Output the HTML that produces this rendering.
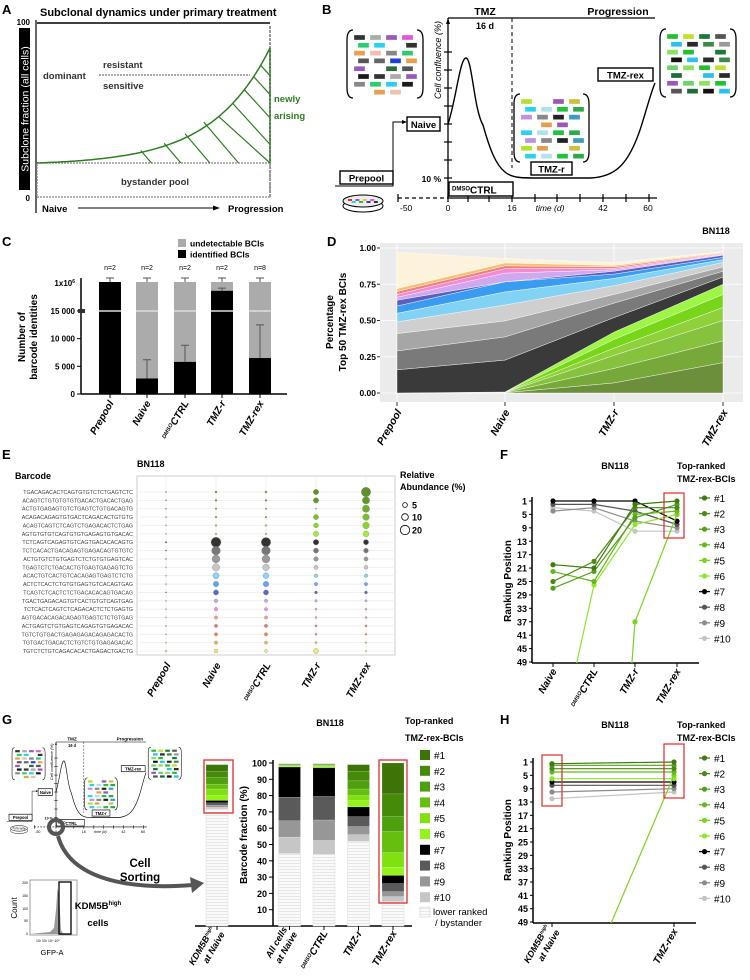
<!DOCTYPE html>
<html><head><meta charset="utf-8">
<style>
html,body{margin:0;padding:0;background:#fff;width:750px;height:980px;overflow:hidden;}
svg{display:block;font-family:"Liberation Sans",Arial,sans-serif;}
.b{font-weight:bold;}
</style></head>
<body>
<svg id="fig" width="750" height="980" viewBox="0 0 750 980" xmlns="http://www.w3.org/2000/svg">
<defs>
<clipPath id="clipF"><rect x="533" y="490" width="160" height="173"/></clipPath>
<clipPath id="clipH"><rect x="534" y="745" width="160" height="178"/></clipPath>
<pattern id="stripes" width="6" height="3" patternUnits="userSpaceOnUse"><rect width="6" height="3" fill="#fafafa"/><line x1="0" y1="2.5" x2="6" y2="2.5" stroke="#e2e2e2" stroke-width="0.8"/></pattern>
</defs>

<!-- PANEL A -->
<g>
<text x="2" y="14" class="b" font-size="13">A</text>
<text x="40" y="16" class="b" font-size="11">Subclonal dynamics under primary treatment</text>
<text x="30" y="25" class="b" font-size="8" text-anchor="end">100</text>
<text x="30" y="201" class="b" font-size="8" text-anchor="end">0</text>
<line x1="37" y1="23" x2="270" y2="23" stroke="#000" stroke-width="1.5"/>
<line x1="36" y1="20" x2="36" y2="213" stroke="#000" stroke-width="1.2"/>
<rect x="19" y="28" width="11" height="162" fill="#000"/>
<text transform="translate(28.5,109) rotate(-90)" text-anchor="middle" fill="#fff" font-size="10.5">Subclone fraction (all cells)</text>
<rect x="37" y="163" width="233" height="34" fill="none" stroke="#999" stroke-width="1.5" stroke-dasharray="2,1"/>
<text x="155" y="185" text-anchor="middle" class="b" font-size="9.5" fill="#333">bystander pool</text>
<line x1="270" y1="26" x2="270" y2="197" stroke="#999" stroke-width="2" stroke-dasharray="3,1"/>
<g id="hatchA"></g>
<line x1="99" y1="75" x2="250" y2="75" stroke="#aaa" stroke-width="2" stroke-dasharray="2,1"/>
<text x="43" y="79" class="b" font-size="9.5" fill="#333">dominant</text>
<text x="103" y="68" class="b" font-size="9.5" fill="#333">resistant</text>
<text x="103" y="89" class="b" font-size="9.5" fill="#333">sensitive</text>
<text x="274" y="102" class="b" font-size="9.5" fill="#2e7d22">newly</text>
<text x="274" y="119" class="b" font-size="9.5" fill="#2e7d22">arising</text>
<text x="42" y="212" class="b" font-size="9.5">Naive</text>
<line x1="78" y1="208" x2="216" y2="208" stroke="#000" stroke-width="1"/>
<path d="M220,208 L213,205.5 L213,210.5 Z" fill="#000"/>
<text x="228" y="212" class="b" font-size="9.5">Progression</text>
</g>

<!-- PANEL B -->
<text x="322" y="14" class="b" font-size="13">B</text>
<g id="panelB">
<text x="485" y="15" text-anchor="middle" class="b" font-size="10.5">TMZ</text>
<text x="618" y="15" text-anchor="middle" class="b" font-size="10.5">Progression</text>
<line x1="448" y1="18" x2="655" y2="18" stroke="#000" stroke-width="1.3"/>
<text x="485" y="29" text-anchor="middle" class="b" font-size="9">16 d</text>
<line x1="512" y1="18" x2="512" y2="168" stroke="#000" stroke-width="1" stroke-dasharray="4,3"/>
<line x1="448" y1="18" x2="448" y2="198" stroke="#000" stroke-width="1.3"/>
<path d="M448,18 L446,24 L450,24 Z" fill="#000"/>
<g id="bTicks"></g>
<text transform="translate(441,60) rotate(-90)" text-anchor="middle" font-style="italic" font-size="9">Cell confluence (%)</text>
<text x="441" y="182" text-anchor="end" class="b" font-size="8.5">10 %</text>
<line x1="448" y1="198" x2="657" y2="198" stroke="#000" stroke-width="1.3"/>
<line x1="398" y1="198" x2="448" y2="198" stroke="#000" stroke-width="1.2" stroke-dasharray="4,3"/>
<line x1="398" y1="194" x2="398" y2="202" stroke="#000" stroke-width="1.2"/>
<g id="tTicks"></g>
<text x="400" y="211" font-size="8.5">-50</text>
<text x="448" y="211" text-anchor="middle" font-size="8.5">0</text>
<text x="512" y="211" text-anchor="middle" font-size="8.5">16</text>
<text x="550" y="211" text-anchor="middle" font-style="italic" font-size="8.5">time (d)</text>
<text x="603" y="211" text-anchor="middle" font-size="8.5">42</text>
<text x="648" y="211" text-anchor="middle" font-size="8.5">60</text>
<path d="M448,124 C456,100 460,58 466,58 C472,58 474,110 483,125 C490,150 496,165 505,172 C512,178 520,178 540,178 L590,178 C615,177 628,165 640,130 C646,112 650,95 655,83" fill="none" stroke="#000" stroke-width="1.4"/>
<path d="M335,186 L393,186 L393,122 L405,122" fill="none" stroke="#000" stroke-width="1"/>
<path d="M407,122 L402,120 L402,124 Z" fill="#000"/>
<rect x="407" y="117" width="33" height="14" fill="#fff" stroke="#000" stroke-width="1.4"/>
<text x="423.5" y="128" text-anchor="middle" class="b" font-size="9.5">Naive</text>
<rect x="340" y="171" width="53" height="13" fill="#fff" stroke="#000" stroke-width="1.4"/>
<text x="366.5" y="181.5" text-anchor="middle" class="b" font-size="9.5">Prepool</text>
<rect x="449" y="182" width="64" height="14" fill="#fff" stroke="#000" stroke-width="1.4"/>
<text x="452" y="193.5" class="b" font-size="10"><tspan font-size="6" dy="-3">DMSO</tspan><tspan dy="3">CTRL</tspan></text>
<rect x="531" y="162" width="41" height="13" fill="#fff" stroke="#000" stroke-width="1.4"/>
<text x="551.5" y="172.5" text-anchor="middle" class="b" font-size="9.5">TMZ-r</text>
<rect x="598" y="68" width="55" height="13" fill="#fff" stroke="#000" stroke-width="1.4"/>
<text x="625.5" y="78.5" text-anchor="middle" class="b" font-size="9.5">TMZ-rex</text>
<g id="clones"></g>
<ellipse cx="363" cy="206" rx="20" ry="6" fill="#fff" stroke="#000"/>
<ellipse cx="363" cy="201" rx="20" ry="6" fill="#eee" stroke="#000"/>
</g>

<!-- PANEL C -->
<g id="panelC">
<text x="2" y="246" class="b" font-size="13">C</text>
<rect x="178" y="239" width="8" height="8" fill="#aaa"/>
<text x="190" y="246.5" font-size="8.5" class="b">undetectable BCIs</text>
<rect x="178" y="250" width="8" height="8" fill="#000"/>
<text x="190" y="257.5" font-size="8.5" class="b">identified BCIs</text>
<text transform="translate(25,337) rotate(-90)" text-anchor="middle" class="b" font-size="10">Number of</text>
<text transform="translate(37,337) rotate(-90)" text-anchor="middle" class="b" font-size="10">barcode identities</text>
</g>

<!-- PANEL D -->
<g id="panelD">
<text x="327" y="246" class="b" font-size="13">D</text>
<text x="716" y="234" text-anchor="middle" class="b" font-size="9">BN118</text>
<rect x="380" y="243" width="363" height="159" fill="#ebebeb"/>
<text transform="translate(333,322) rotate(-90)" text-anchor="middle" class="b" font-size="10">Percentage</text>
<text transform="translate(346,322) rotate(-90)" text-anchor="middle" class="b" font-size="10">Top 50 TMZ-rex BCIs</text>
</g>

<!-- PANEL E -->
<g id="panelE">
<text x="2" y="459" class="b" font-size="13">E</text>
<text x="15" y="479" class="b" font-size="9">Barcode</text>
<text x="137" y="467" class="b" font-size="9">BN118</text>
<rect x="137" y="476" width="258" height="179" fill="#fff" stroke="#ccc"/>
<text x="400" y="478" class="b" font-size="9">Relative</text>
<text x="400" y="490" class="b" font-size="9">Abundance (%)</text>
</g>

<!-- PANEL F -->
<g id="panelF">
<text x="500" y="459" class="b" font-size="13">F</text>
<text x="615" y="469" text-anchor="middle" class="b" font-size="9">BN118</text>
<text x="677" y="469" class="b" font-size="9">Top-ranked</text>
<text x="677" y="482" class="b" font-size="9">TMZ-rex-BCIs</text>
<text transform="translate(511,581) rotate(-90)" text-anchor="middle" class="b" font-size="10">Ranking Position</text>
</g>

<!-- PANEL G -->
<g id="panelG">
<text x="2" y="724" class="b" font-size="13">G</text>
<g id="insetHolder"></g>
<circle cx="56" cy="827" r="7" fill="none" stroke="#555" stroke-width="4"/>
<path d="M58,836 C70,880 130,890 193,885" fill="none" stroke="#555" stroke-width="4"/>
<path d="M204,883 L190,877 L192,893 Z" fill="#555"/>
<text x="140" y="867" text-anchor="middle" class="b" font-size="11.5">Cell</text>
<text x="140" y="881" text-anchor="middle" class="b" font-size="11.5">Sorting</text>
<rect x="30" y="880" width="47" height="55" fill="#fff" stroke="#888" stroke-width="0.8"/>
<path d="M30,934 L40,933 L50,932 L54,928 L56,910 L57.5,888 L59,895 L61,930 L63,934 Z" fill="#999"/>
<rect x="59" y="882" width="12" height="52" fill="none" stroke="#000" stroke-width="1.3"/>
<text x="28" y="884" text-anchor="end" font-size="3.5">200</text>
<text x="28" y="897" text-anchor="end" font-size="3.5">150</text>
<text x="28" y="910" text-anchor="end" font-size="3.5">100</text>
<text x="28" y="922" text-anchor="end" font-size="3.5">50</text>
<text x="28" y="935" text-anchor="end" font-size="3.5">0</text>
<text transform="translate(17,908) rotate(-90)" text-anchor="middle" font-size="8">Count</text>
<text x="36" y="942" font-size="3.5">10²  10³  10⁴  10⁵</text>
<text x="52" y="955" text-anchor="middle" font-size="7.5">GFP-A</text>
<text x="98" y="909" text-anchor="middle" class="b" font-size="9.5">KDM5B<tspan font-size="6" dy="-4">high</tspan></text>
<text x="98" y="926" text-anchor="middle" class="b" font-size="9.5">cells</text>
<text x="330" y="726" text-anchor="middle" class="b" font-size="9">BN118</text>
<text x="405" y="724" class="b" font-size="9">Top-ranked</text>
<text x="405" y="741" class="b" font-size="9">TMZ-rex-BCIs</text>
<text transform="translate(247,835) rotate(-90)" text-anchor="middle" class="b" font-size="10">Barcode fraction (%)</text>
</g>

<!-- PANEL H -->
<g id="panelH">
<text x="500" y="724" class="b" font-size="13">H</text>
<text x="615" y="728" text-anchor="middle" class="b" font-size="9">BN118</text>
<text x="677" y="728" class="b" font-size="9">Top-ranked</text>
<text x="677" y="741" class="b" font-size="9">TMZ-rex-BCIs</text>
<text transform="translate(511,840) rotate(-90)" text-anchor="middle" class="b" font-size="10">Ranking Position</text>
</g>
</svg>

<script>
// ===== DATA =====
// Panel C
var cCategories = ["Prepool","Naive","DMSO CTRL","TMZ-r","TMZ-rex"];
var cIdentified = [1000000, 2800, 5800, 700000, 6500];
var cErrorHigh = [1000000, 6200, 8800, 790000, 12500];
var cN = ["n=2","n=2","n=2","n=2","n=8"];
var cTicks = [0, 5000, 10000, 15000];
var cTickLabels = ["0","5 000","10 000","15 000"];
// Panel D (layer thickness at Prepool, Naive, TMZ-r, TMZ-rex)
var dCategories = ["Prepool","Naive","TMZ-r","TMZ-rex"];
var dTicks = [0, 0.25, 0.5, 0.75, 1.0];
var dTickLabels = ["0.00","0.25","0.50","0.75","1.00"];
var dLayer1 = [0, 0.002, 0.07, 0.21];
var dLayer2 = [0, 0.001, 0.10, 0.15];
var dLayer3 = [0, 0.001, 0.09, 0.14];
var dLayer4 = [0, 0.001, 0.05, 0.09];
var dLayer5 = [0, 0.001, 0.06, 0.09];
var dLayer6 = [0, 0.001, 0.05, 0.07];
var dLayer7 = [0.16, 0.22, 0.10, 0.05];
var dLayer8 = [0.13, 0.16, 0.10, 0.04];
var dLayer9 = [0.12, 0.11, 0.06, 0.03];
var dLayer10 = [0.08, 0.11, 0.06, 0.03];
var dLayer11 = [0.06, 0.09, 0.05, 0.02];
var dLayer12 = [0.05, 0.07, 0.03, 0.015];
var dLayer13 = [0.04, 0.00, 0.02, 0.015];
var dLayer14 = [0.02, 0.06, 0.01, 0.005];
var dLayer15 = [0.02, 0.03, 0.01, 0.005];
var dLayer16 = [0.02, 0.02, 0.01, 0.005];
var dLayer17 = [0.02, 0.02, 0.01, 0.005];
var dLayer18 = [0.25, 0.03, 0.02, 0.005];
var dLayers = [dLayer1,dLayer2,dLayer3,dLayer4,dLayer5,dLayer6,dLayer7,dLayer8,dLayer9,dLayer10,dLayer11,dLayer12,dLayer13,dLayer14,dLayer15,dLayer16,dLayer17,dLayer18];
var dColors = ["#6b8f3a","#77a83a","#86c23e","#8fd13a","#78d61a","#9df545","#3a3a3a","#7a7a7a","#a6a6a6","#cfcfcf","#82d2f5","#3a9cf0","#5a5fc0","#cfa8f0","#f28ad4","#f08080","#f5c070","#fdf3dc"];
// Panel E
var eCategories = ["Prepool","Naive","DMSO CTRL","TMZ-r","TMZ-rex"];
var eBarcodes = ["TGACAGACACTCAGTGTGTCTCTGAGTCTC","ACAGTCTGTGTGTGTGACACTGACACTGAG","ACTGTGAGAGTGTCTGAGTCTGTGACAGTG","ACAGACAGAGTGTGACTCAGACACTGTGTG","ACAGTCAGTCTCAGTCTGAGACACTCTGAG","AGTGTGTGTCAGTGTGTGAGAGTGTGACAC","TCTCAGTCAGAGTGTCAGTGACACACAGTG","TCTCACACTGACAGAGTGAGACAGTGTGTC","ACTGTGTCTGTGAGTCTCTGTGTGAGTCAC","TGAGTCTCTGACACTGTGAGTGAGAGTCTG","ACACTGTCACTGTCACAGAGTGAGTCTCTG","ACTCTCACTCTGTGTGAGTGTCACAGTGAG","TCAGTCTCACTCTCTGACACACAGTGACAG","TGACTGAGACAGTGTCACTGTGTCAGTGAG","TCTCACTCAGTCTCAGACACTCTCTGAGTG","AGTGACACAGACAGAGTGAGTCTCTGTGAG","ACTGAGTCTGTGAGTCAGAGTGTGAGACAC","TGTCTGTGACTGAGAGAGACAGAGACACTG","TGTGACTGACACTCTGTCTGTGAGAGACAC","TGTCTCTGTCAGACACACTGAGACTGACTG"];
var eAbundPrepool = [0.3,0.3,0.3,0.3,0.3,0.3,0.5,0.4,0.4,0.3,0.3,0.3,0.3,0.3,0.3,0.3,0.3,0.3,0.3,1.0];
var eAbundNaive = [0.8,0.8,0.6,0.8,0.8,0.8,22,17,14,12,9,7,6,3,3,2.5,2.5,2.5,2.5,3.5];
var eAbundCtrl = [0.8,0.8,0.6,0.8,0.8,0.8,20,17,14,10,8,7,6,2.5,2.5,2.5,2.5,2.5,2,2];
var eAbundTmzr = [6.5,6.5,0.3,6,5.5,6.5,7,6,5,4,3,2.5,2,1.5,1,1,1,1,1,6];
var eAbundTmzrex = [20,12,12,10,10,8,6,5,4,3.5,3,2.5,2,1.2,1,1,1,0.8,0.6,0.5];
var eRowColors = ["#5e8f2a","#5f9a25","#6fae2c","#7cc02e","#8ad62c","#9ff03a","#333","#777","#999","#c6c6c6","#8fd3f2","#5fa8ef","#5a66c8","#c9a4ec","#ea98dc","#eea6a6","#e27a6a","#ee8a3a","#f2b24a","#f4e878"];
var eLegendValues = [5, 10, 20];
// Panel F
var fCategories = ["Naive","DMSO CTRL","TMZ-r","TMZ-rex"];
var fRankTicks = [1,5,9,13,17,21,25,29,33,37,41,45,49];
var fRank1 = [20, 21, 2, 1];
var fRank2 = [25, 19, 3, 3];
var fRank3 = [27, 22, 6, 2];
var fRank4 = [22, 25, 5, 4];
var fRank5 = [200, 200, 37, 5];
var fRank6 = [81, 26, 8, 5];
var fRank7 = [1, 1, 1, 7];
var fRank8 = [2, 2, 4, 8];
var fRank9 = [4, 3, 7, 9];
var fRank10 = [3, 4, 10, 10];
var fSeries = [fRank1,fRank2,fRank3,fRank4,fRank5,fRank6,fRank7,fRank8,fRank9,fRank10];
var rankColors = ["#3f7a10","#4b8a14","#56a019","#66b81c","#7ad41e","#8ce82a","#000000","#555555","#8c8c8c","#c4c4c4"];
var rankLabels = ["#1","#2","#3","#4","#5","#6","#7","#8","#9","#10"];
// Panel G (% of each segment #1..#10; remainder = lower ranked)
var gCategories = ["KDM5B high at Naive","All cells at Naive","DMSO CTRL","TMZ-r","TMZ-rex"];
var gTicks = [10,20,30,40,50,60,70,80,90,100];
var gSeg1 = [4, 0.4, 0.4, 4, 19];
var gSeg2 = [4, 0.3, 0.3, 6, 14];
var gSeg3 = [4, 0.3, 0.3, 5, 9];
var gSeg4 = [3, 0.3, 0.3, 4, 13];
var gSeg5 = [4, 0.3, 0.4, 3, 9];
var gSeg6 = [3, 0.4, 0.8, 4, 5];
var gSeg7 = [1.5, 18.5, 17.5, 6, 5];
var gSeg8 = [1.5, 14.5, 14.5, 6, 5];
var gSeg9 = [1.2, 10, 12.5, 5, 3];
var gSeg10 = [1, 10, 8.5, 4, 3];
var gTotal = [99, 99.5, 99.5, 99, 100];
var gSegs = [gSeg1,gSeg2,gSeg3,gSeg4,gSeg5,gSeg6,gSeg7,gSeg8,gSeg9,gSeg10];
var gSegColors = ["#3e7308","#468a0a","#4fa00e","#66bf0e","#80e010","#92f41a","#000000","#5a5a5a","#979797","#c6c6c6"];
// Panel H
var hCategories = ["KDM5B high at Naive","TMZ-rex"];
var hRank1 = [1.5, 1];
var hRank2 = [3, 3];
var hRank3 = [2, 2];
var hRank4 = [4, 4];
var hRank5 = [91, 5];
var hRank6 = [6, 6];
var hRank7 = [7, 7];
var hRank8 = [8, 8];
var hRank9 = [10, 9];
var hRank10 = [12, 10];
var hSeries = [hRank1,hRank2,hRank3,hRank4,hRank5,hRank6,hRank7,hRank8,hRank9,hRank10];

// ===== HELPERS =====
var NS = "http://www.w3.org/2000/svg";
function mk(tag, attrs, parent){ var e=document.createElementNS(NS,tag); for(var k in attrs) e.setAttribute(k,attrs[k]); (parent||document.getElementById('fig')).appendChild(e); return e; }
function rotLabel(parent, x, y, parts, size, name){
  var t = mk('text',{x:x,y:y,'text-anchor':'end','font-size':size,'font-weight':'bold','font-style':'italic',transform:'rotate(-60 '+x+' '+y+')'},parent);
  
  
  parts.forEach(function(p){ var s=mk('tspan',{},t); if(p.sup){s.setAttribute('font-size',size*0.55);s.setAttribute('dy',-3);} else if(p.after){s.setAttribute('dy',3);} s.textContent=p.t; });
  return t;
}
function catParts(c){
  if(c==="DMSO CTRL") return [{t:"DMSO",sup:true},{t:"CTRL",after:true}];
  return [{t:c}];
}

// ===== PANEL A hatching =====
(function(){
  var g=document.getElementById('hatchA');
  function cx(t){return 37+233*t;} function cy(t){return 163-115*(Math.exp(4*t)-1)/(Math.exp(4)-1);}
  var d='M'+cx(0)+','+cy(0); for(var i=1;i<=60;i++){var t=i/60;d+=' L'+cx(t).toFixed(1)+','+cy(t).toFixed(1);}
  var p=mk('path',{d:d,fill:'none',stroke:'#2e7d22','stroke-width':1.5},g);
   
  var v=mk('line',{x1:270,y1:48,x2:270,y2:163,stroke:'#2e7d22','stroke-width':1.3},g);
   
  var ts=[0.48,0.58,0.67,0.75,0.82,0.88,0.93,0.97,1.0];
  ts.forEach(function(t){var x=cx(t)-8,y=cy(t);var dy=163-y;var x2=Math.min(x+dy*0.85,270);var y2=y+(x2-x)/0.85;
    if(t>0.8){ x=cx(t-0.04); y=cy(t-0.04); x2=270; y2=Math.min(y+(270-x)*1.1,163);} 
    var l=mk('line',{x1:x,y1:y,x2:x2,y2:y2,stroke:'#2e7d22','stroke-width':1.2},g);
     });
})();

// ===== PANEL B ticks & clones =====
(function(){
  var g=document.getElementById('bTicks');
  [52,70,88,106,124,142,160,178].forEach(function(y){var l=mk('line',{x1:444,y1:y,x2:452,y2:y,stroke:'#000','stroke-width':1.2},g);
     });
  var t=document.getElementById('tTicks');
  [448,468,489,512,535,557,580,603,626,649].forEach(function(x){var l=mk('line',{x1:x,y1:194,x2:x,y2:202,stroke:'#000','stroke-width':1.2},t);
     });
  var c=document.getElementById('clones');
  var boxes=[{x:347,y:30,w:76,h:68,pal:["#333","#555","#888","#aaa","#666","#2ecc71","#9b59b6","#1c3fd6","#2ad0f0","#e05ad8","#e8a050","#1a1a1a","#2b6b3a","#f0c0b0"]},
             {x:514,y:94,w:75,h:68,pal:["#888","#2ea84a","#b6e030","#222","#2a2a8a","#e0a050","#3a9ac0","#2ad0f0","#9b59b6","#e02020","#b0e0e8","#d0c040","#c090e0","#20c040","#555"]},
             {x:660,y:29,w:76,h:68,pal:["#555","#8ee060","#3a8a4a","#1d6b3a","#20c030","#999","#111","#c0e030","#9b59b6","#2ac0f0","#1a7a3a","#70d070","#2a2a2a"]}];
  boxes.forEach(function(b,bi){
    var br=mk('path',{d:'M'+(b.x+6)+','+b.y+' Q'+b.x+','+b.y+' '+b.x+','+(b.y+10)+' L'+b.x+','+(b.y+b.h-10)+' Q'+b.x+','+(b.y+b.h)+' '+(b.x+6)+','+(b.y+b.h)+
      ' M'+(b.x+b.w-6)+','+b.y+' Q'+(b.x+b.w)+','+b.y+' '+(b.x+b.w)+','+(b.y+10)+' L'+(b.x+b.w)+','+(b.y+b.h-10)+' Q'+(b.x+b.w)+','+(b.y+b.h)+' '+(b.x+b.w-6)+','+(b.y+b.h),
      fill:'none',stroke:'#000','stroke-width':1.3},c);
     
    for(var r=0;r<8;r++){for(var q=0;q<4;q++){
      if(((r*7+q*3+bi)%9)===4) continue;
      var x=b.x+7+q*16+((r%2)?4:0), y=b.y+5+r*7.8;
      if(x+11>b.x+b.w-4) continue;
      var col=b.pal[(r*5+q*3+bi*2)%b.pal.length];
      var rr=mk('rect',{x:x,y:y,width:11,height:5,fill:col,stroke:'#fff','stroke-width':0.3},c);
       
    }}
  });
  var dc=["#e03030","#2ad0f0","#9b59b6","#20c040","#f0c040","#1c3fd6","#e05ad8","#333"];
  for(var i=0;i<8;i++){var d=mk('rect',{x:348+i*3.7,y:199+(i%2)*2,width:4,height:2,fill:dc[i]},document.getElementById('panelB'));
     }
})();

// ===== PANEL C =====
(function(){
  var g=document.getElementById('panelC');
  var xs=[110,147,185,222,260], bw=22, y0=394, top=282;
  function cy(v){ if(v<=15000) return y0 - v*(83/15000); return top + (311-top)*(1-(v-15000)/(1000000-15000)); }
  var ax=mk('line',{x1:81,y1:278,x2:81,y2:y0,stroke:'#000','stroke-width':1.5},g);  
  var xa=mk('line',{x1:81,y1:y0,x2:287,y2:y0,stroke:'#000','stroke-width':1.5},g);  
  cTicks.forEach(function(v,i){var y=cy(v);
    var t=mk('line',{x1:77,y1:y,x2:81,y2:y,stroke:'#000'},g);  
    var l=mk('text',{x:75,y:y+3,'text-anchor':'end','font-size':8,'font-weight':'bold'},g); l.textContent=cTickLabels[i];
     });
  var l6=mk('text',{x:75,y:top+4,'text-anchor':'end','font-size':8,'font-weight':'bold'},g); l6.textContent='1x10';
   
  var s6=mk('tspan',{'font-size':5,dy:-3},l6); s6.textContent='6';
  var brk=mk('rect',{x:78,y:309,width:7,height:4,fill:'#333'},g);  
  cCategories.forEach(function(c,i){
    var x=xs[i];
    var gr=mk('rect',{x:x-bw/2,y:top,width:bw,height:y0-top,fill:'#ababab'},g);
     
    var yb=cy(cIdentified[i]);
    var bk=mk('rect',{x:x-bw/2,y:yb,width:bw,height:y0-yb,fill:'#000'},g);
     
    var wl=mk('line',{x1:x-bw/2,y1:311,x2:x+bw/2,y2:311,stroke:'#ddd','stroke-width':1.5},g);
     
    var ye=cy(cErrorHigh[i]);
    if(cErrorHigh[i]>cIdentified[i]){
      var e=mk('path',{d:'M'+x+','+yb+' L'+x+','+ye+' M'+(x-4)+','+ye+' L'+(x+4)+','+ye,stroke:'#555','stroke-width':1,fill:'none'},g);
       }
    var e2=mk('path',{d:'M'+x+','+top+' L'+x+','+(top-4)+' M'+(x-4)+','+(top-4)+' L'+(x+4)+','+(top-4),stroke:'#555','stroke-width':1,fill:'none'},g);
     
    var n=mk('text',{x:x,y:270,'text-anchor':'middle','font-size':7},g); n.textContent=cN[i];
     
    var tk=mk('line',{x1:x,y1:y0,x2:x,y2:y0+4,stroke:'#000'},g);  
    rotLabel(g, x+4, y0+9, catParts(c), 10, 'c-x-label');
  });
})();

// ===== PANEL D =====
(function(){
  var g=document.getElementById('panelD');
  var xs=[397,505,614,723];
  function y(v){return 393 - v*145;}
  dTicks.forEach(function(v,i){
    var gl=mk('line',{x1:380,y1:y(v),x2:743,y2:y(v),stroke:'#fff','stroke-width':0.8},g);
     
    var t=mk('text',{x:376,y:y(v)+3,'text-anchor':'end','font-size':8.5,'font-weight':'bold'},g); t.textContent=dTickLabels[i];
     
    var tk=mk('line',{x1:377,y1:y(v),x2:380,y2:y(v),stroke:'#333'},g);  
  });
  xs.forEach(function(x){var gl=mk('line',{x1:x,y1:243,x2:x,y2:402,stroke:'#fff','stroke-width':0.8},g);
     });
  var cum=[0,0,0,0];
  dLayers.forEach(function(layer,li){
    var lo=cum.slice(); var hi=cum.map(function(c,j){return c+layer[j];});
    var d='M'+xs.map(function(x,j){return x+','+y(hi[j]).toFixed(1);}).join(' L')+' L'+xs.slice().reverse().map(function(x,j){return x+','+y(lo[3-j]).toFixed(1);}).join(' L')+' Z';
    var p=mk('path',{d:d,fill:dColors[li],stroke:'#fff','stroke-width':0.4},g);
     
    cum=hi;
  });
  dCategories.forEach(function(c,i){
    var tk=mk('line',{x1:xs[i],y1:402,x2:xs[i],y2:406,stroke:'#333'},g);  
    rotLabel(g, xs[i]+5, 412, [{t:c}], 10.5, 'd-x-label');
  });
})();

// ===== PANEL E =====
(function(){
  var g=document.getElementById('panelE');
  var xs=[166,216,266,316,366];
  function ry(i){return 492 + i*8.37;}
  function rad(v){return 1.05*Math.sqrt(v);}
  xs.forEach(function(x){var l=mk('line',{x1:x,y1:477,x2:x,y2:654,stroke:'#eee','stroke-width':0.8},g);
     });
  var all=[eAbundPrepool,eAbundNaive,eAbundCtrl,eAbundTmzr,eAbundTmzrex];
  eBarcodes.forEach(function(b,i){
    var y=ry(i);
    var l=mk('line',{x1:137,y1:y,x2:395,y2:y,stroke:'#eee','stroke-width':0.8},g);
     
    var t=mk('text',{x:133,y:y+2,'text-anchor':'end','font-size':5.3,fill:'#444'},g); t.textContent=b;
     
    all.forEach(function(arr,j){
      var c=mk('circle',{cx:xs[j],cy:y,r:Math.max(rad(arr[i]),0.6),fill:eRowColors[i],stroke:'#777','stroke-width':0.3},g);
       
    });
  });
  eLegendValues.forEach(function(v,i){
    var yy=[505,517,530][i];
    var c=mk('circle',{cx:405,cy:yy,r:rad(v),fill:'none',stroke:'#000','stroke-width':0.8},g);
     
    var t=mk('text',{x:412,y:yy+3.5,'font-size':9,'font-weight':'bold'},g); t.textContent=v;
     
  });
  eCategories.forEach(function(c,i){ rotLabel(g, xs[i]+5, 665, catParts(c), 10, 'e-x-label'); });
})();

// ===== rank chart helper =====
function rankChart(gid, clip, xs, axisX, yTop, yBot, series, cats, legendY0, boxes, labelParts){
  var g=document.getElementById(gid);
  function y(r){return yTop + (r-1)*(yBot-yTop)/48;}
  var a=mk('line',{x1:axisX,y1:yTop-4,x2:axisX,y2:yBot+1,stroke:'#000','stroke-width':1.5},g);
   
  var xa=mk('line',{x1:axisX,y1:yBot+1,x2:xs[xs.length-1]+22,y2:yBot+1,stroke:'#000','stroke-width':1.5},g);
   
  fRankTicks.forEach(function(r){
    var t=mk('line',{x1:axisX-3,y1:y(r),x2:axisX,y2:y(r),stroke:'#000'},g);  
    var l=mk('text',{x:axisX-5,y:y(r)+3.5,'text-anchor':'end','font-size':9,'font-weight':'bold'},g); l.textContent=r;
     });
  var lg=mk('g',{'clip-path':'url(#'+clip+')'},g);
   
  for(var s=series.length-1;s>=0;s--){
    var arr=series[s];
    var pl=mk('polyline',{points:arr.map(function(v,j){return xs[j]+','+y(v).toFixed(1);}).join(' '),fill:'none',stroke:rankColors[s],'stroke-width':1.2},lg);
     
    arr.forEach(function(v,j){ if(v<=49){var c=mk('circle',{cx:xs[j],cy:y(v),r:2.6,fill:rankColors[s]},lg);
       }});
  }
  boxes.forEach(function(b){var r=mk('rect',{x:b[0],y:b[1],width:b[2],height:b[3],fill:'none',stroke:'#e02a2a','stroke-width':1.2},g);
     });
  rankLabels.forEach(function(lb,i){
    var yy=legendY0+i*15.6;
    var l=mk('line',{x1:699,y1:yy,x2:710,y2:yy,stroke:rankColors[i],'stroke-width':1.3},g);  
    var c=mk('circle',{cx:704.5,cy:yy,r:2.6,fill:rankColors[i]},g);  
    var t=mk('text',{x:714,y:yy+4,'font-size':10},g); t.textContent=lb;  
  });
  cats.forEach(function(c,i){
    var tk=mk('line',{x1:xs[i],y1:yBot+1,x2:xs[i],y2:yBot+5,stroke:'#000'},g);  
    labelParts(g,c,xs[i]);
  });
}
rankChart('panelF','clipF',[553,594,635,677],532,501,662,fSeries,fCategories,498,[[664,493,20,45]],function(g,c,x){rotLabel(g,x+4,671,catParts(c),10,'f-x-label');});
rankChart('panelH','clipH',[552,674],533,762,922,hSeries,hCategories,758,[[542,755,20,51],[664,744,20,54]],function(g,c,x){
  if(c==="TMZ-rex"){rotLabel(g,x+4,931,[{t:c}],10,'h-x-label');}
  else{
    rotLabel(g,x-2,927,[{t:"KDM5B"},{t:"high",sup:true}],9,'h-x-label-1');
    rotLabel(g,x+8,932,[{t:"at Naive"}],9,'h-x-label-2');
  }
});

// ===== PANEL G =====
(function(){
  var g=document.getElementById('panelG');
  var xs=[217,289.5,324,358.5,393], bw=22;
  function y(v){return 926 - v*1.63;}
  var a=mk('line',{x1:273,y1:760,x2:273,y2:926,stroke:'#000','stroke-width':1.5},g);  
  var xa=mk('line',{x1:195,y1:926,x2:412,y2:926,stroke:'#000','stroke-width':1.5},g);  
  gTicks.forEach(function(v){
    var t=mk('line',{x1:269,y1:y(v),x2:273,y2:y(v),stroke:'#000'},g);  
    var l=mk('text',{x:267,y:y(v)+3.5,'text-anchor':'end','font-size':9,'font-weight':'bold'},g); l.textContent=v;
     });
  gCategories.forEach(function(c,i){
    var x=xs[i]-bw/2;
    var cum=gTotal[i];
    gSegs.forEach(function(seg,s){
      var v=seg[i];
      var r=mk('rect',{x:x,y:y(cum),width:bw,height:v*1.63,fill:gSegColors[s],stroke:'rgba(255,255,255,0.35)','stroke-width':0.4},g);
       
      cum-=v;
    });
    var lr=mk('rect',{x:x,y:y(cum),width:bw,height:cum*1.63,fill:'url(#stripes)',stroke:'#ddd','stroke-width':0.5},g);
     
    var tk=mk('line',{x1:xs[i],y1:926,x2:xs[i],y2:930,stroke:'#000'},g);  
  });
  var b1=mk('rect',{x:204,y:760,width:29,height:53,fill:'none',stroke:'#e02a2a','stroke-width':1.3},g);  
  var b2=mk('rect',{x:379,y:760,width:28,height:143,fill:'none',stroke:'#e02a2a','stroke-width':1.3},g);  
  rankLabels.forEach(function(lb,i){
    var yy=755+i*15.8;
    var r=mk('rect',{x:420,y:yy-5,width:10,height:10,fill:gSegColors[i]},g);  
    var t=mk('text',{x:434,y:yy+4,'font-size':10},g); t.textContent=lb;  
  });
  var lr=mk('rect',{x:420,y:907,width:10,height:10,fill:'url(#stripes)',stroke:'#ccc','stroke-width':0.5},g);  
  var t1=mk('text',{x:433,y:915,'font-size':9.5},g); t1.textContent='lower ranked';  
  var t2=mk('text',{x:435,y:926,'font-size':9.5},g); t2.textContent='/ bystander';  
  rotLabel(g, xs[0]-2, 929, [{t:"KDM5B"},{t:"high",sup:true}], 9, 'g-x-label');
  rotLabel(g, xs[0]+8, 934, [{t:"at Naive"}], 9, 'g-x-label');
  rotLabel(g, xs[1]-2, 929, [{t:"All cells"}], 9, 'g-x-label');
  rotLabel(g, xs[1]+8, 934, [{t:"at Naive"}], 9, 'g-x-label');
  rotLabel(g, xs[2]+4, 933, catParts("DMSO CTRL"), 10, 'g-x-label');
  rotLabel(g, xs[3]+4, 933, [{t:"TMZ-r"}], 10, 'g-x-label');
  rotLabel(g, xs[4]+4, 933, [{t:"TMZ-rex"}], 10, 'g-x-label');
  var src=document.getElementById('panelB').cloneNode(true);
  src.removeAttribute('id');
  src.setAttribute('transform','matrix(0.435,0,0,0.472,-138.9,733.5)');
  
  document.getElementById('insetHolder').appendChild(src);
})();
</script>
</body></html>
